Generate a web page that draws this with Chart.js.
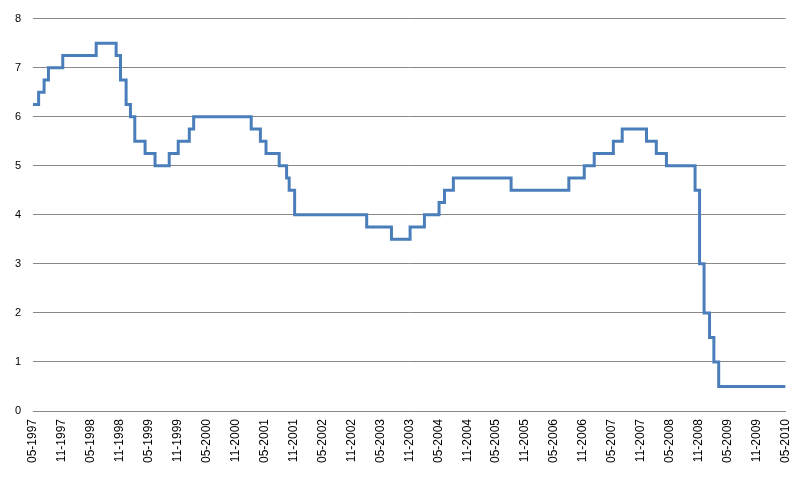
<!DOCTYPE html>
<html><head><meta charset="utf-8">
<script src="https://cdn.jsdelivr.net/npm/chart.js@4/dist/chart.umd.min.js"></script>
<style>html,body{margin:0;padding:0;background:#fff}#w{width:803px;height:482px}</style>
</head><body><div id="w"><canvas id="c"></canvas></div>
<script>
const changeDates = ["1997-05-01","1997-06-06","1997-07-10","1997-08-07","1997-11-06","1998-06-04","1998-10-08","1998-11-05","1998-12-10","1999-01-07","1999-02-04","1999-04-08","1999-06-10","1999-09-08","1999-11-04","2000-01-13","2000-02-10","2001-02-08","2001-04-05","2001-05-10","2001-08-02","2001-09-18","2001-10-04","2001-11-08","2003-02-06","2003-07-10","2003-11-06","2004-02-05","2004-05-06","2004-06-10","2004-08-05","2005-08-04","2006-08-03","2006-11-09","2007-01-11","2007-05-10","2007-07-05","2007-12-06","2008-02-07","2008-04-10","2008-10-08","2008-11-06","2008-12-04","2009-01-08","2009-02-05","2009-03-05","2010-05-01"];
const rates = [6.25,6.5,6.75,7.0,7.25,7.5,7.25,6.75,6.25,6.0,5.5,5.25,5.0,5.25,5.5,5.75,6.0,5.75,5.5,5.25,5.0,4.75,4.5,4.0,3.75,3.5,3.75,4.0,4.25,4.5,4.75,4.5,4.75,5.0,5.25,5.5,5.75,5.5,5.25,5.0,4.5,3.0,2.0,1.5,1.0,0.5,0.5];
const yTicks = [0,1,2,3,4,5,6,7,8];
function toMonth(s){const [y,m,d]=s.split('-').map(Number);return (y-1997)*12+(m-5)+(d-1)/30;}
const pts = changeDates.map((d,i)=>({x:toMonth(d),y:rates[i]}));
new Chart(document.getElementById('c'),{
 type:'line',
 data:{datasets:[{data:pts,stepped:true,borderColor:'#4a7ebb',borderWidth:3,pointRadius:0,fill:false}]},
 options:{responsive:true,maintainAspectRatio:false,animation:false,
  layout:{padding:{top:6,right:14,left:0,bottom:0}},
  plugins:{legend:{display:false},tooltip:{enabled:false}},
  scales:{
   x:{type:'linear',min:0,max:156,afterFit:a=>{a.height=71;},
    grid:{display:false,drawTicks:true,tickLength:5,color:'#888'},
    border:{color:'#888'},
    ticks:{stepSize:6,autoSkip:false,maxRotation:90,minRotation:90,color:'#000',font:{family:'Liberation Sans, Arial',size:12},
     callback:v=>{const t=v+4;const y=1997+Math.floor(t/12);const m=t%12+1;return String(m).padStart(2,'0')+'-'+y;}}},
   y:{min:0,max:8,afterFit:a=>{a.width=33;},afterBuildTicks:a=>{a.ticks=yTicks.map(v=>({value:v}));},
    grid:{color:'#888',drawTicks:false},border:{display:false},
    ticks:{padding:12,color:'#000',font:{family:'Liberation Sans, Arial',size:11}}}
  }}
});
</script></body></html>
